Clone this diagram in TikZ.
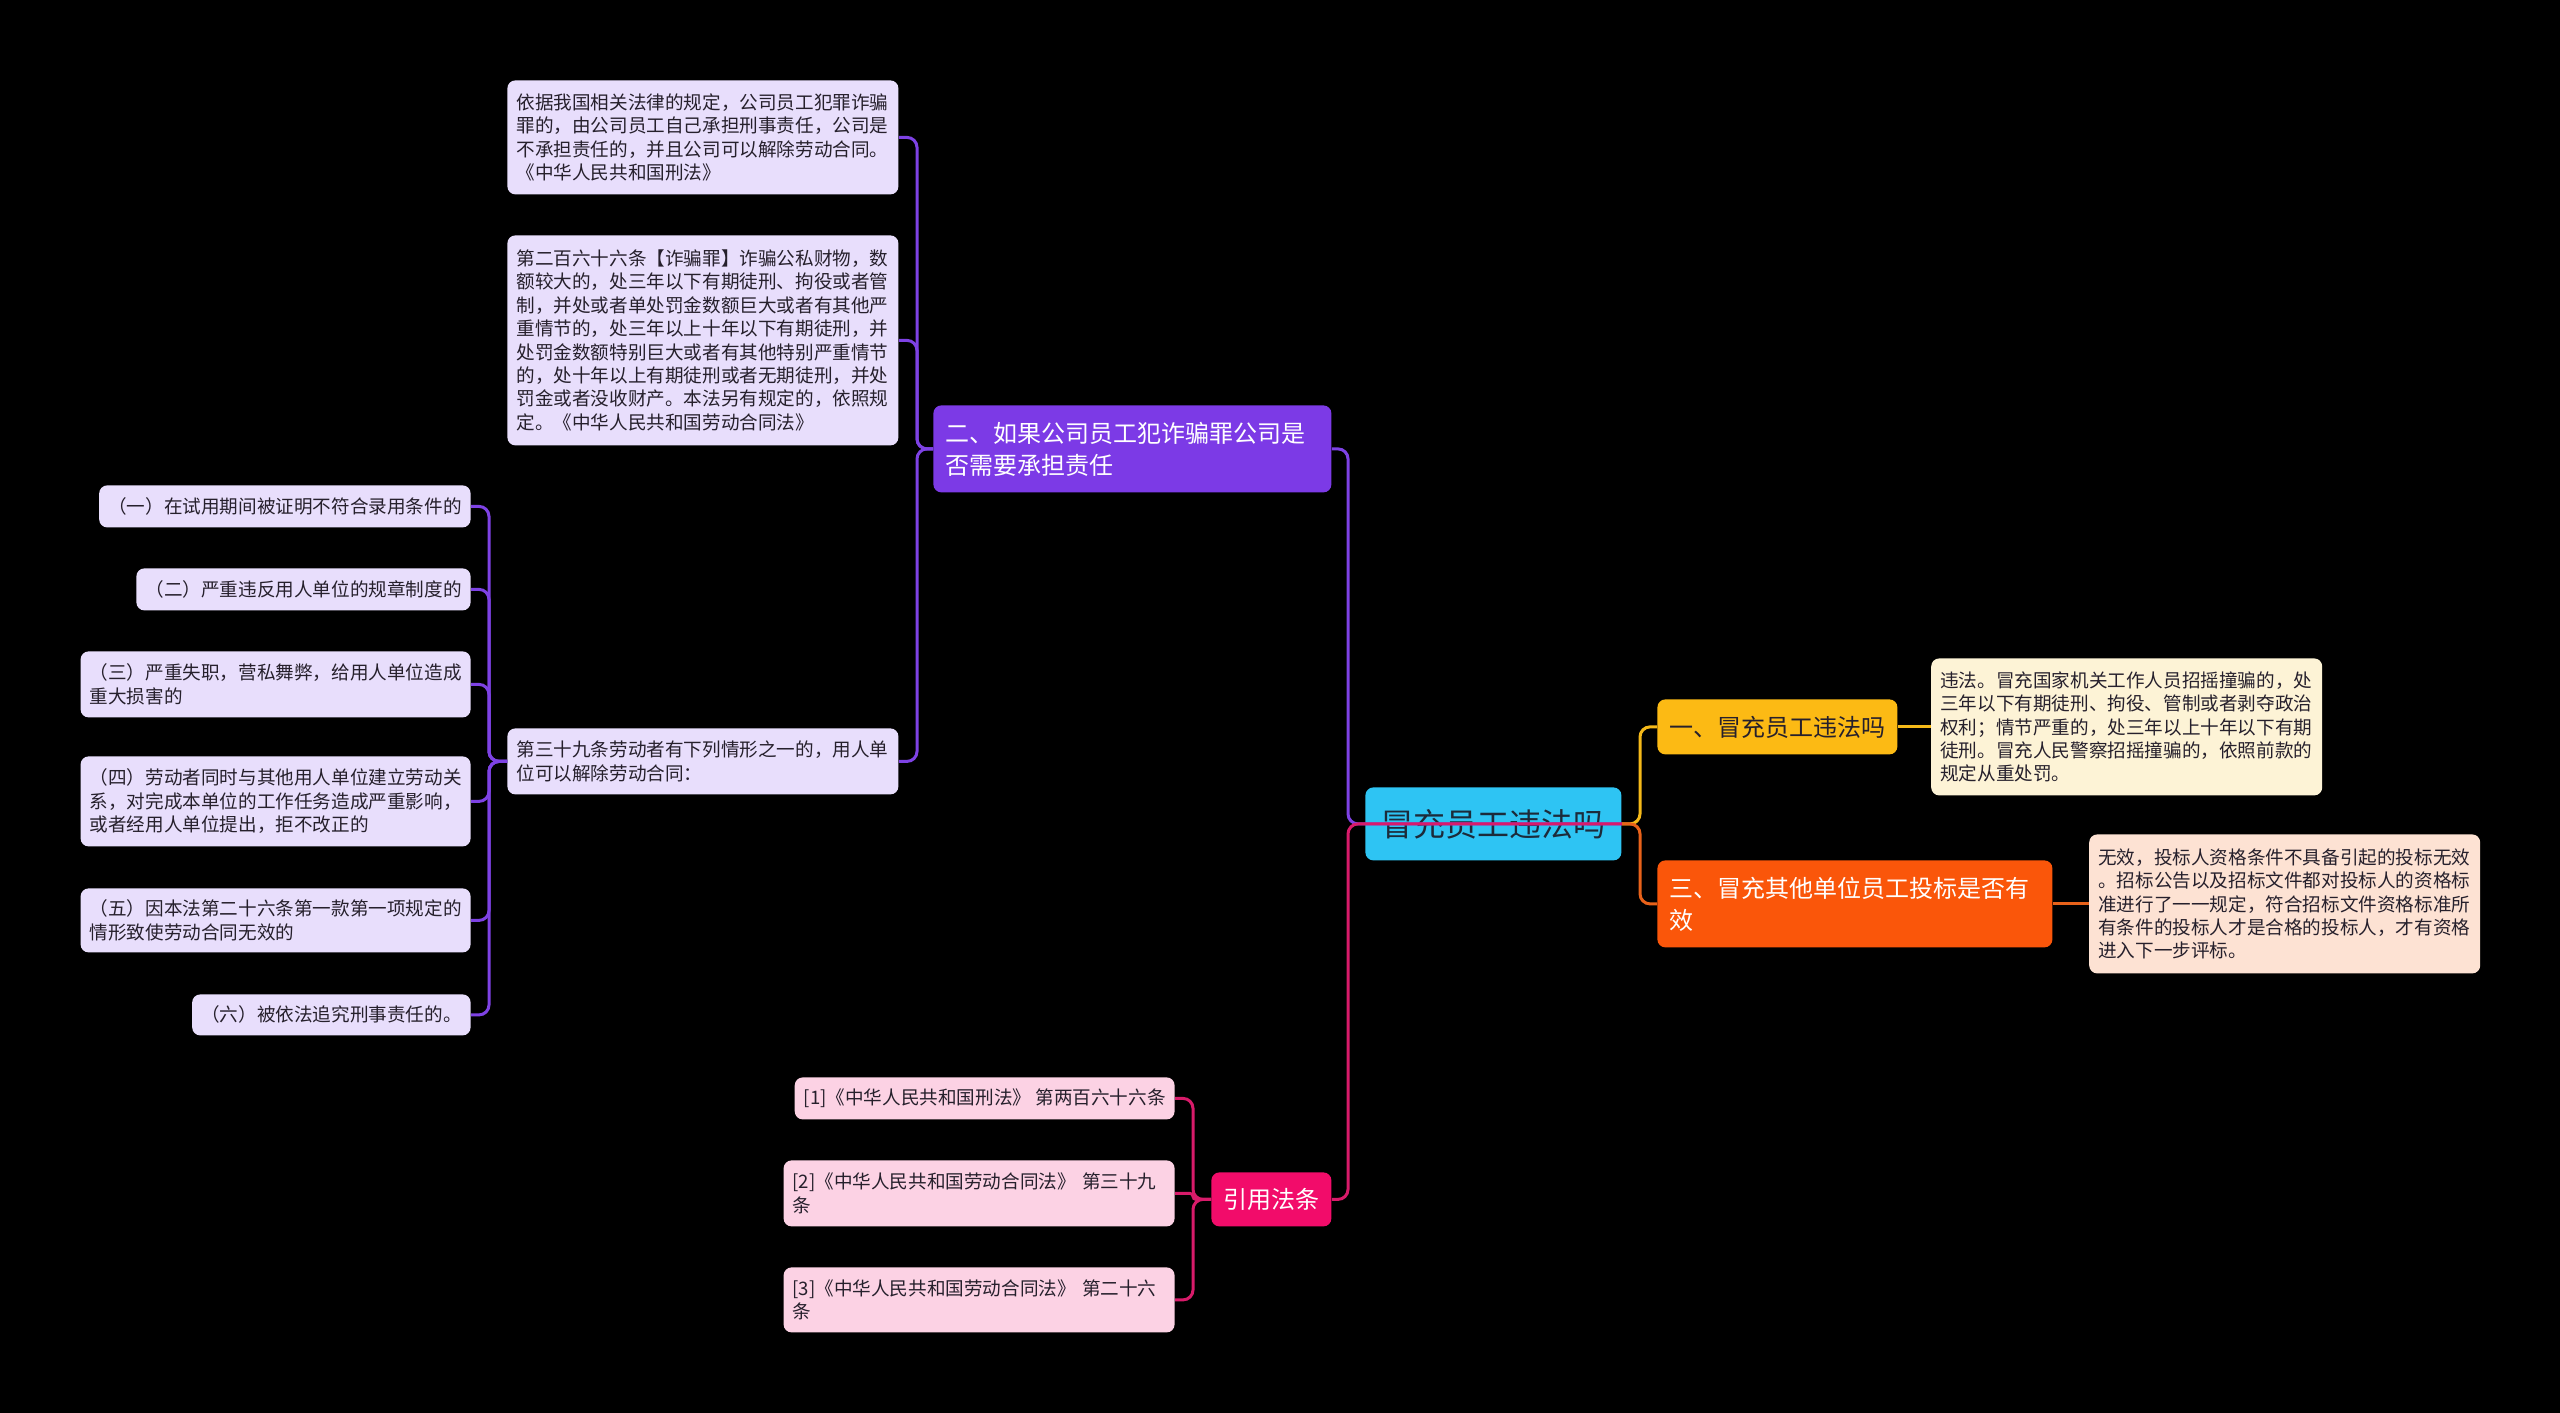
\documentclass[tikz,border=0pt]{standalone}
\usepackage{fontspec}
\setmainfont{Noto Sans CJK SC}
\usetikzlibrary{positioning}
\definecolor{rootcyan}{RGB}{46,196,243}
\definecolor{rootink}{RGB}{28,43,58}
\definecolor{brpurple}{RGB}{124,58,230}
\definecolor{lfpurple}{RGB}{232,222,252}
\definecolor{bryellow}{RGB}{252,186,20}
\definecolor{lfyellow}{RGB}{253,243,214}
\definecolor{brorange}{RGB}{250,86,10}
\definecolor{lforange}{RGB}{253,226,211}
\definecolor{brpink}{RGB}{242,12,106}
\definecolor{lfpink}{RGB}{252,210,228}
\definecolor{inkgray}{RGB}{38,32,44}
\definecolor{lnpurple}{RGB}{126,66,228}
\definecolor{lnyellow}{RGB}{245,185,25}
\definecolor{lnorange}{RGB}{232,98,26}
\definecolor{lnpink}{RGB}{216,27,106}

\begin{document}
\begin{tikzpicture}[x=0.5pt, y=-0.5pt,
  box/.style={rectangle, rounded corners=4pt, align=left},
  root/.style={box, fill=rootcyan, text=rootink, font=\fontsize{16}{20}\selectfont,
               inner xsep=8pt, minimum height=36.5pt},
  br/.style={box, font=\fontsize{12}{16}\selectfont, inner xsep=6pt},
  lf/.style={box, font=\fontsize{9.3}{11.7}\selectfont, inner xsep=4.5pt, text=inkgray},
  wide/.style={text width=186.5pt},
  ln/.style={line width=1.5pt, rounded corners=5pt}]
\fill[black] (0,0) rectangle (2560,1413);

\node[root, anchor=north west] (root) at (1365,787) {冒充员工违法吗};

% right side
\node[br, fill=bryellow, text=inkgray, anchor=north west, minimum height=27.5pt] (b1) at (1657,699) {一、冒充员工违法吗};
\node[lf, wide, fill=lfyellow, right=16.5pt of b1, minimum height=68.5pt] (rl1)
  {违法。冒充国家机关工作人员招摇撞骗的，处\\三年以下有期徒刑、拘役、管制或者剥夺政治\\权利；情节严重的，处三年以上十年以下有期\\徒刑。冒充人民警察招摇撞骗的，依照前款的\\规定从重处罚。};
\node[br, fill=brorange, text=white, text width=185.5pt, anchor=north west, minimum height=43.5pt] (b3) at (1657,860)
  {三、冒充其他单位员工投标是否有\\效};
\node[lf, wide, fill=lforange, right=18pt of b3, minimum height=69.5pt] (rl2)
  {无效，投标人资格条件不具备引起的投标无效\\。招标公告以及招标文件都对投标人的资格标\\准进行了一一规定，符合招标文件资格标准所\\有条件的投标人才是合格的投标人，才有资格\\进入下一步评标。};

% left side
\node[br, fill=brpurple, text=white, text width=187pt, anchor=north west, minimum height=43.5pt] (b2) at (933,405)
  {二、如果公司员工犯诈骗罪公司是\\否需要承担责任};
\node[lf, wide, fill=lfpurple, anchor=north west, minimum height=57pt] (lA) at (507,80)
  {依据我国相关法律的规定，公司员工犯罪诈骗\\罪的，由公司员工自己承担刑事责任，公司是\\不承担责任的，并且公司可以解除劳动合同。\\《中华人民共和国刑法》};
\node[lf, wide, fill=lfpurple, anchor=north west, minimum height=105pt] (lB) at (507,235)
  {第二百六十六条【诈骗罪】诈骗公私财物，数\\额较大的，处三年以下有期徒刑、拘役或者管\\制，并处或者单处罚金数额巨大或者有其他严\\重情节的，处三年以上十年以下有期徒刑，并\\处罚金数额特别巨大或者有其他特别严重情节\\的，处十年以上有期徒刑或者无期徒刑，并处\\罚金或者没收财产。本法另有规定的，依照规\\定。《中华人民共和国劳动合同法》};
\node[lf, wide, fill=lfpurple, anchor=north west, minimum height=33pt] (lC) at (507,728)
  {第三十九条劳动者有下列情形之一的，用人单\\位可以解除劳动合同：};

\node[lf, fill=lfpurple, anchor=north east, minimum height=21pt] (s1) at (471,485) {（一）在试用期间被证明不符合录用条件的};
\node[lf, fill=lfpurple, anchor=north east, minimum height=21pt] (s2) at (471,568) {（二）严重违反用人单位的规章制度的};
\node[lf, fill=lfpurple, anchor=north east, minimum height=33pt] (s3) at (471,651) {（三）严重失职，营私舞弊，给用人单位造成\\重大损害的};
\node[lf, fill=lfpurple, anchor=north east, minimum height=45pt] (s4) at (471,756) {（四）劳动者同时与其他用人单位建立劳动关\\系，对完成本单位的工作任务造成严重影响，\\或者经用人单位提出，拒不改正的};
\node[lf, fill=lfpurple, anchor=north east, minimum height=32pt] (s5) at (471,888) {（五）因本法第二十六条第一款第一项规定的\\情形致使劳动合同无效的};
\node[lf, fill=lfpurple, anchor=north east, minimum height=20.5pt] (s6) at (471,994) {（六）被依法追究刑事责任的。};

% bottom
\node[br, fill=brpink, text=white, anchor=north west, minimum height=27pt] (cite) at (1211,1172) {引用法条};
\node[lf, fill=lfpink, anchor=north east, minimum height=21pt] (r1) at (1175,1077) {[1]《中华人民共和国刑法》 第两百六十六条};
\node[lf, wide, fill=lfpink, anchor=north east, minimum height=33pt] (r2) at (1175,1160) {[2]《中华人民共和国劳动合同法》 第三十九\\条};
\node[lf, wide, fill=lfpink, anchor=north east, minimum height=32.5pt] (r3) at (1175,1267) {[3]《中华人民共和国劳动合同法》 第二十六\\条};

% junctions
\coordinate (jl) at (1348,0);
\coordinate (jr) at (1640,0);
\coordinate (j2) at (917,0);
\coordinate (j3) at (489,0);
\coordinate (j4) at (1193,0);

\draw[ln, lnyellow] (root.east) -- (root.east -| jr) |- (b1.west);
\draw[ln, lnorange] (root.east) -- (root.east -| jr) |- (b3.west);
\draw[ln, lnyellow] (b1.east) -- (rl1.west);
\draw[ln, lnorange] (b3.east) -- (rl2.west);
\draw[ln, lnpurple] (root.east) -- (root.east -| jl) |- (b2.east);
\draw[ln, lnpink] (root.east) -- (root.east -| jl) |- (cite.east);
\foreach \n in {lA,lB,lC}
  \draw[ln, lnpurple] (b2.west) -- (b2.west -| j2) |- (\n.east);
\foreach \n in {s1,s2,s3,s4,s5,s6}
  \draw[ln, lnpurple] (lC.west) -- (lC.west -| j3) |- (\n.east);
\foreach \n in {r1,r3}
  \draw[ln, lnpink] (cite.west) -- (cite.west -| j4) |- (\n.east);
\draw[ln, lnpink, rounded corners=1.5pt] (cite.west) -- (cite.west -| j4) |- (r2.east);
\end{tikzpicture}
\end{document}
